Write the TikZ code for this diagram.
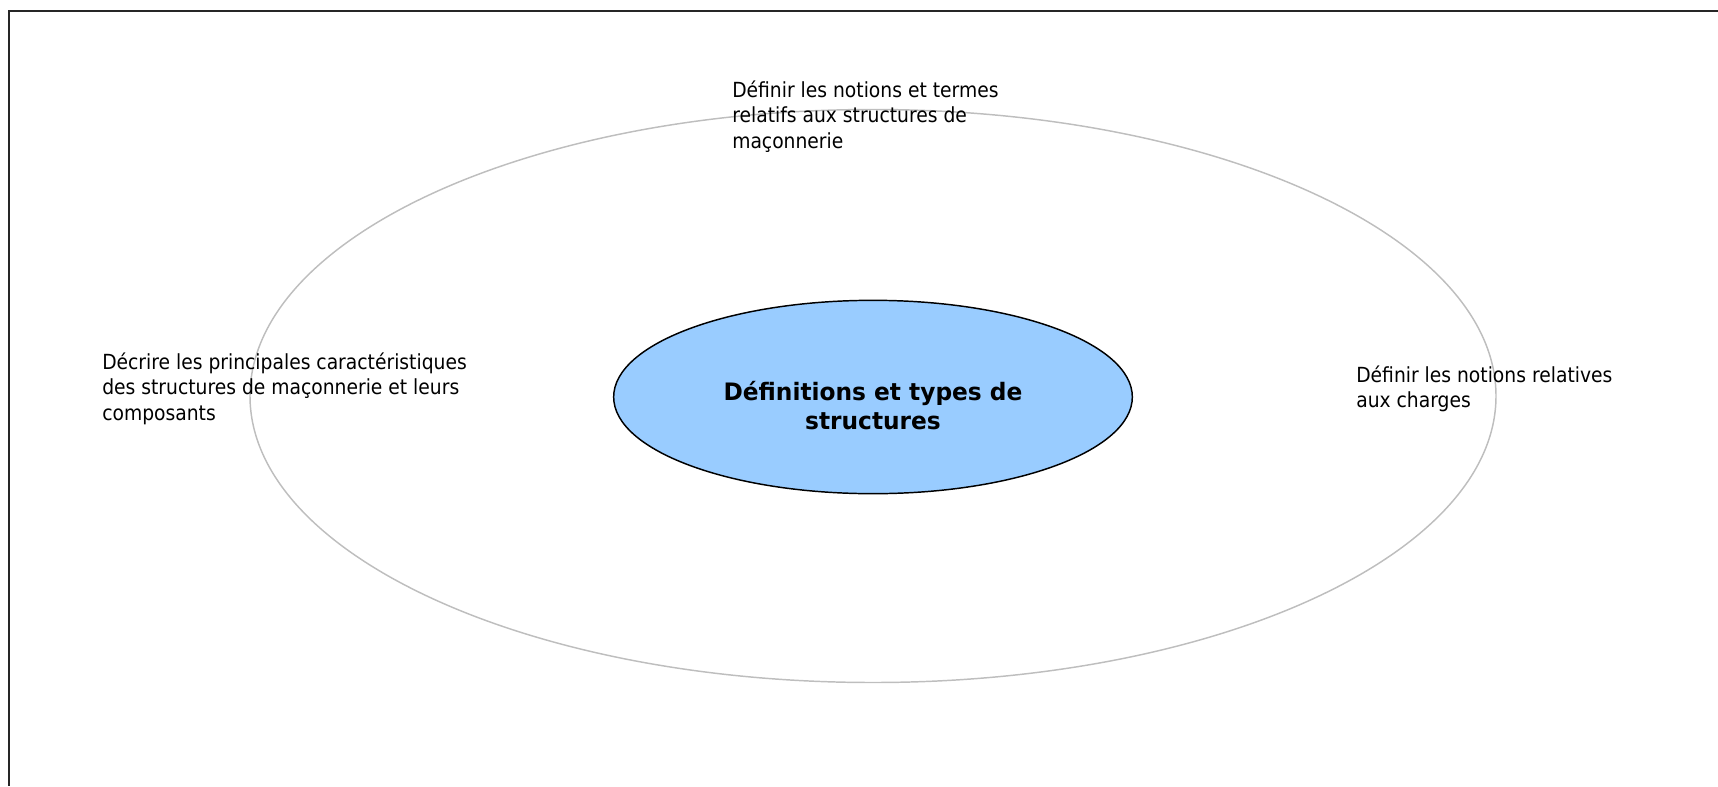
\documentclass[tikz,border=0pt]{standalone}
\usepackage{fontspec}
\setmainfont{DejaVu Sans}[FakeStretch=0.9, BoldFeatures={FakeStretch=0.97}]
\usetikzlibrary{shapes.geometric}
\definecolor{bulle}{HTML}{99CCFF}
\definecolor{anneau}{HTML}{BEBEBE}

\begin{document}
\begin{tikzpicture}[
        x = 0.75pt, y = -0.75pt,
        ring/.style = {ellipse, draw=anneau, line width=1.1pt, inner sep=0pt,
                       minimum width=934.5pt, minimum height=429.75pt},
        core/.style = {ellipse, draw=black, fill=bulle, line width=1.1pt, inner sep=0pt,
                       minimum width=389pt, minimum height=145pt},
        titre/.style = {align=center, inner sep=0pt,
                       font=\bfseries\fontsize{18pt}{22.3pt}\selectfont},
        goal/.style = {anchor=north west, inner sep=0pt, align=left,
                       font=\fontsize{15.6pt}{18.8pt}\selectfont},
      ]
        \useasboundingbox (0,0) rectangle (1718,786);
        % cadre
        \draw[line width=1.5pt, black!85] (1718,11) -- (9,11) -- (9,786);
        % anneaux
        \node[ring] (anneau) at (873,396) {};
        \node[core] (centre) at (873,397) {};
        \node[titre, yshift=-6.5pt] (nom) at (centre) {Définitions et types de\\structures};
        % objectifs
        \node[goal] (haut) at (732,81) {Définir les notions et termes\\relatifs aux structures de\\maçonnerie};
        \node[goal] (gauche) at (102,353) {Décrire les principales caractéristiques\\des structures de maçonnerie et leurs\\composants};
        \node[goal] (droite) at (1356,366) {Définir les notions relatives\\aux charges};
\end{tikzpicture}
\end{document}
